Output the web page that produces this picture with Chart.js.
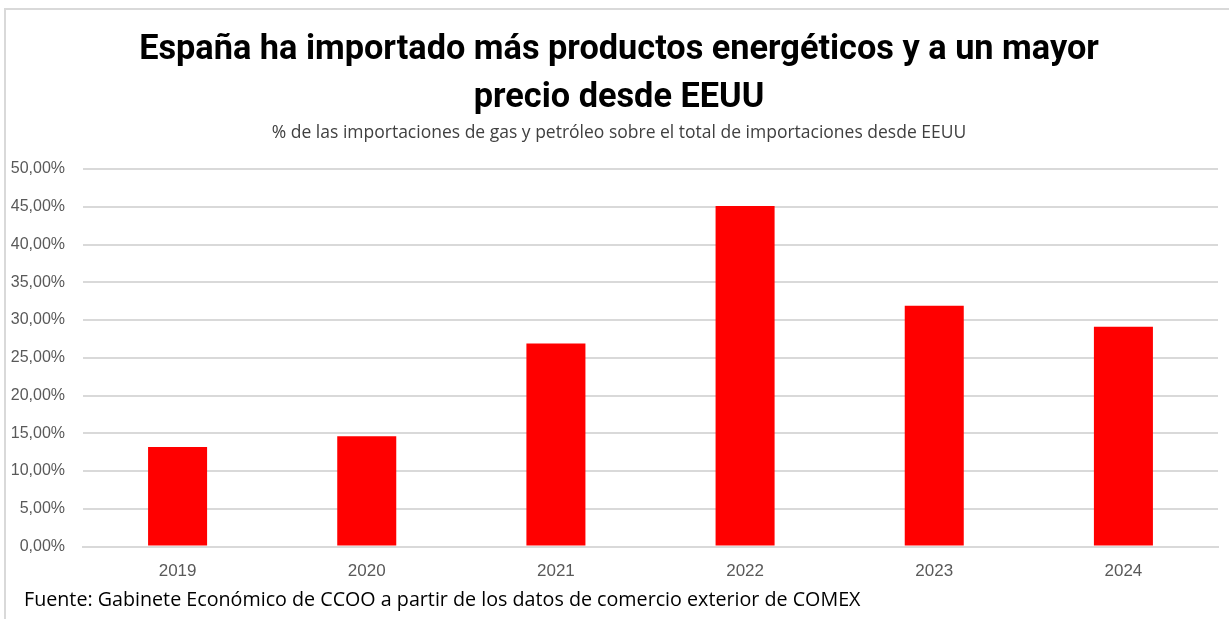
<!DOCTYPE html>
<html lang="es">
<head>
<meta charset="utf-8">
<script src="https://cdn.jsdelivr.net/npm/chart.js@4.4.1/dist/chart.umd.min.js"></script>
<style>
  html, body { margin: 0; padding: 0; background: #fff; }
  #wrap { position: relative; width: 1229px; height: 619px; overflow: hidden; }
  #frame { position: absolute; left: 4px; top: 8px; width: 1240px; height: 640px;
           border-left: 2px solid #d9d9d9; border-top: 2px solid #d9d9d9; box-sizing: border-box; }
  #chart { position: absolute; left: 0; top: 0; }
  #fuente { position: absolute; left: 24px; top: 586px; font: 19.7px "Open Sans", "Noto Sans", sans-serif;
            color: #000; white-space: nowrap; line-height: 26px; }
</style>
</head>
<body>
<div id="wrap">
  <div id="frame"></div>
  <canvas id="chart" width="1238" height="619"></canvas>
  <div id="fuente">Fuente: Gabinete Económico de CCOO a partir de los datos de comercio exterior de COMEX</div>
</div>
<script>
// ── Data ──────────────────────────────────────────────────────────────
const YEARS  = ['2019', '2020', '2021', '2022', '2023', '2024'];
const SHARES = [13.2, 14.6, 26.9, 45.1, 31.9, 29.1];   // % gas + petróleo
const TITLE_LINES = ['España ha importado más productos energéticos y a un mayor', 'precio desde EEUU'];
const SUBTITLE = '% de las importaciones de gas y petróleo sobre el total de importaciones desde EEUU';

const fmtPct = v => v.toFixed(2).replace('.', ',') + '%';

new Chart(document.getElementById('chart').getContext('2d'), {
  type: 'bar',
  data: {
    labels: YEARS,
    datasets: [{
      data: SHARES,
      backgroundColor: '#ff0000',
      borderWidth: 0,
      categoryPercentage: 1,
      barPercentage: 0.312,
    }],
  },
  options: {
    responsive: false,
    animation: false,
    layout: { padding: { top: 26, right: 0, bottom: 22, left: 0 } },
    plugins: {
      legend: { display: false },
      tooltip: { enabled: false },
      title: {
        display: true,
        text: TITLE_LINES,
        color: '#000',
        font: { family: 'Roboto, "DejaVu Sans Condensed", sans-serif', size: 34.3, weight: 'bold', lineHeight: 1.4 },
        padding: { top: 0, bottom: 0 },
      },
      subtitle: {
        display: true,
        text: SUBTITLE,
        color: '#404040',
        font: { family: '"Open Sans", "Noto Sans", sans-serif', size: 17.5 },
        padding: { top: 0, bottom: 26 },
      },
    },
    scales: {
      x: {
        grid: { display: false, drawTicks: false },
        border: { display: true, color: '#d9d9d9', width: 2 },
        ticks: { color: '#595959', font: { family: '"Liberation Sans", Arial, sans-serif', size: 17 }, padding: 15 },
      },
      y: {
        min: 0,
        max: 50,
        afterFit: s => { s.width = 83; },
        grid: { color: '#d9d9d9', lineWidth: 2, drawTicks: false },
        border: { display: false },
        ticks: {
          stepSize: 5,
          padding: 18,
          color: '#595959',
          font: { family: '"Liberation Sans", Arial, sans-serif', size: 16 },
          callback: v => fmtPct(v),
        },
      },
      // empty right margin so the titles centre on the frame, not the plot
      yRight: {
        position: 'right',
        min: 0,
        max: 50,
        afterFit: s => { s.width = 20; },
        grid: { display: false, drawTicks: false },
        border: { display: false },
        ticks: { display: false },
      },
    },
  },
});
</script>
</body>
</html>
